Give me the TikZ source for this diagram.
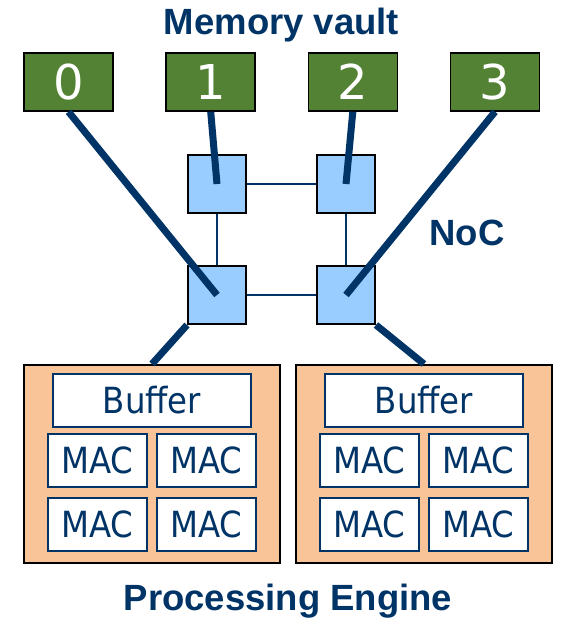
\documentclass[tikz,border=0pt]{standalone}
\usepackage{fontspec}
\setmainfont{DejaVu Sans}
\newfontfamily\unitfont{DejaVu Sans}[FakeStretch=0.9]
\newfontfamily\headfont{Liberation Sans}
\usetikzlibrary{calc}

\definecolor{navy}{RGB}{0,51,102}
\definecolor{vaultgreen}{RGB}{84,130,53}
\definecolor{routerblue}{RGB}{153,204,255}
\definecolor{peach}{RGB}{248,196,152}

\tikzset{
    vault/.style={draw=black,line width=1.5pt,fill=vaultgreen,text=white,
        minimum width=89pt,minimum height=58pt,inner sep=0pt,
        font=\fontsize{48}{54}\selectfont},
    router/.style={draw=black,line width=2pt,fill=routerblue,
        minimum size=58pt,inner sep=0pt},
    engine/.style={draw=black,line width=2pt,fill=peach,
        minimum width=256pt,minimum height=198pt,inner sep=0pt},
    unitbox/.style={draw=navy,line width=2pt,fill=white,text=navy,inner sep=0pt,
        font=\unitfont\fontsize{36}{40}\selectfont},
    head/.style={text=navy,inner sep=0pt,anchor=base,
        font=\headfont\bfseries\fontsize{36.5}{40}\selectfont},
    link/.style={navy,line width=1.8pt},
    wire/.style={navy,line width=7pt}
}

\begin{document}
\begin{tikzpicture}[x=1pt,y=-1pt]
    \useasboundingbox (0,0) rectangle (580,626);
    % memory vaults
    \node[head] (memlabel) at (281.5,35) {Memory vault};
    \foreach \i/\x in {0/68.5,1/210.7,2/352.8,3/495}
        \node[vault] (v\i) at (\x,82) {\i};
    % NoC routers
    \node[router] (r00) at (217,184) {};
    \node[router] (r01) at (346,184) {};
    \node[router] (r10) at (217,295) {};
    \node[router] (r11) at (346,295) {};
    \node[head] (noclabel) at (467,245) {NoC};
    \draw[link] (r00) -- (r01);
    \draw[link] (r10) -- (r11);
    \draw[link] (r00) -- (r10);
    \draw[link] (r01) -- (r11);
    % processing engines
    \node[engine] (pe0) at (152,464) {};
    \node[engine] (pe1) at (424,464) {};
    \node[unitbox,minimum width=198pt,minimum height=53pt] (buf0) at (152,400.5) {Buffer};
    \node[unitbox,minimum width=198pt,minimum height=53pt] (buf1) at (424,400.5) {Buffer};
    \foreach \p/\xa/\xb in {0/97.5/206.5,1/369.5/478.5}
        \foreach \r/\y in {0/460.5,1/524} {
            \node[unitbox,minimum width=99pt,minimum height=53pt] (mac\p\r0) at (\xa,\y) {MAC};
            \node[unitbox,minimum width=99pt,minimum height=53pt] (mac\p\r1) at (\xb,\y) {MAC};
        }
    \node[head] (pelabel) at (288,610.7) {Processing Engine};
    % wires
    \draw[wire] (v0.south) -- (r10.center);
    \draw[wire] (v1.south) -- (r00.center);
    \draw[wire] (v2.south) -- (r01.center);
    \draw[wire] (v3.south) -- (r11.center);
    \draw[wire] (r10.south west) -- (pe0.north);
    \draw[wire] (r11.south east) -- (pe1.north);
\end{tikzpicture}
\end{document}
